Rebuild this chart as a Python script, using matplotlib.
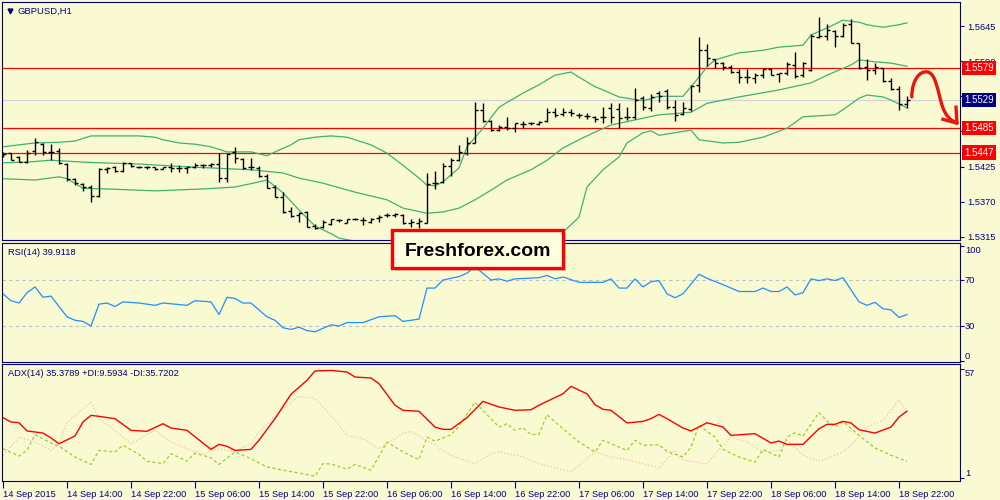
import numpy as np
import matplotlib.pyplot as plt
from matplotlib.patches import Rectangle, PathPatch
from matplotlib.path import Path
from matplotlib.ticker import FormatStrFormatter

plt.rcParams['font.family'] = ['Liberation Sans', 'DejaVu Sans']

# GBPUSD H1, 14 Sep 06:00 .. 18 Sep 23:00 (one bar per hour)
opens = [
    1.5445, 1.5446, 1.5440, 1.5432, 1.5449, 1.5460, 1.5448, 1.5449, 1.5429, 1.5406,
    1.5398, 1.5393, 1.5379, 1.5421, 1.5424, 1.5418, 1.5431, 1.5424, 1.5425, 1.5424,
    1.5421, 1.5424, 1.5423, 1.5423, 1.5424, 1.5427, 1.5427, 1.5429, 1.5407, 1.5448,
    1.5437, 1.5424, 1.5423, 1.5410, 1.5393, 1.5377, 1.5355, 1.5349, 1.5354, 1.5332,
    1.5330, 1.5335, 1.5341, 1.5337, 1.5343, 1.5341, 1.5338, 1.5345, 1.5349, 1.5349,
    1.5349, 1.5337, 1.5337, 1.5337, 1.5399, 1.5401, 1.5426, 1.5435, 1.5446, 1.5462,
    1.5514, 1.5496, 1.5482, 1.5487, 1.5485, 1.5492, 1.5493, 1.5492, 1.5496, 1.5510,
    1.5507, 1.5510, 1.5506, 1.5504, 1.5503, 1.5503, 1.5517, 1.5515, 1.5503, 1.5503,
    1.5532, 1.5517, 1.5540, 1.5543, 1.5518, 1.5507, 1.5515, 1.5553, 1.5607, 1.5593,
    1.5587, 1.5581, 1.5573, 1.5565, 1.5564, 1.5568, 1.5578, 1.5570, 1.5571, 1.5584,
    1.5568, 1.5576, 1.5628, 1.5629, 1.5637, 1.5629, 1.5648, 1.5618, 1.5581, 1.5576,
    1.5579, 1.5559, 1.5546, 1.5523]
highs = [
    1.5448, 1.5447, 1.5441, 1.5451, 1.5470, 1.5462, 1.5460, 1.5454, 1.5430, 1.5407,
    1.5399, 1.5396, 1.5423, 1.5424, 1.5426, 1.5432, 1.5431, 1.5426, 1.5426, 1.5425,
    1.5425, 1.5431, 1.5427, 1.5426, 1.5431, 1.5429, 1.5431, 1.5446, 1.5446, 1.5456,
    1.5438, 1.5438, 1.5426, 1.5413, 1.5396, 1.5385, 1.5362, 1.5354, 1.5355, 1.5335,
    1.5341, 1.5343, 1.5343, 1.5343, 1.5345, 1.5346, 1.5345, 1.5349, 1.5352, 1.5352,
    1.5351, 1.5343, 1.5345, 1.5415, 1.5418, 1.5431, 1.5438, 1.5459, 1.5471, 1.5526,
    1.5524, 1.5498, 1.5490, 1.5503, 1.5493, 1.5496, 1.5495, 1.5496, 1.5517, 1.5517,
    1.5517, 1.5515, 1.5509, 1.5509, 1.5504, 1.5518, 1.5524, 1.5524, 1.5518, 1.5548,
    1.5535, 1.5539, 1.5543, 1.5546, 1.5529, 1.5526, 1.5553, 1.5628, 1.5617, 1.5593,
    1.5589, 1.5584, 1.5578, 1.5578, 1.5571, 1.5579, 1.5579, 1.5571, 1.5589, 1.5604,
    1.5589, 1.5632, 1.5659, 1.5648, 1.5639, 1.5650, 1.5656, 1.5618, 1.5593, 1.5587,
    1.5579, 1.5564, 1.5551, 1.5535]
lows = [
    1.5440, 1.5435, 1.5432, 1.5431, 1.5443, 1.5443, 1.5435, 1.5429, 1.5402, 1.5396,
    1.5387, 1.5370, 1.5378, 1.5415, 1.5416, 1.5417, 1.5424, 1.5423, 1.5422, 1.5420,
    1.5421, 1.5416, 1.5416, 1.5415, 1.5423, 1.5423, 1.5424, 1.5401, 1.5401, 1.5431,
    1.5421, 1.5420, 1.5409, 1.5391, 1.5377, 1.5352, 1.5346, 1.5338, 1.5330, 1.5327,
    1.5329, 1.5334, 1.5338, 1.5337, 1.5341, 1.5334, 1.5337, 1.5338, 1.5346, 1.5346,
    1.5335, 1.5330, 1.5329, 1.5336, 1.5390, 1.5399, 1.5410, 1.5434, 1.5443, 1.5462,
    1.5495, 1.5481, 1.5481, 1.5482, 1.5479, 1.5485, 1.5490, 1.5490, 1.5495, 1.5503,
    1.5504, 1.5504, 1.5501, 1.5499, 1.5495, 1.5493, 1.5493, 1.5485, 1.5498, 1.5499,
    1.5514, 1.5512, 1.5526, 1.5515, 1.5496, 1.5506, 1.5512, 1.5542, 1.5582, 1.5579,
    1.5576, 1.5571, 1.5556, 1.5556, 1.5556, 1.5564, 1.5568, 1.5557, 1.5568, 1.5564,
    1.5565, 1.5575, 1.5626, 1.5623, 1.5612, 1.5628, 1.5618, 1.5578, 1.5560, 1.5570,
    1.5557, 1.5545, 1.5514, 1.5517]
closes = [
    1.5445, 1.5435, 1.5432, 1.5446, 1.5463, 1.5448, 1.5448, 1.5431, 1.5406, 1.5399,
    1.5393, 1.5379, 1.5421, 1.5423, 1.5418, 1.5431, 1.5426, 1.5424, 1.5424, 1.5421,
    1.5424, 1.5423, 1.5423, 1.5424, 1.5427, 1.5427, 1.5429, 1.5407, 1.5445, 1.5438,
    1.5423, 1.5424, 1.5410, 1.5391, 1.5377, 1.5354, 1.5348, 1.5353, 1.5330, 1.5329,
    1.5338, 1.5343, 1.5341, 1.5343, 1.5343, 1.5341, 1.5343, 1.5346, 1.5349, 1.5351,
    1.5337, 1.5338, 1.5340, 1.5398, 1.5399, 1.5426, 1.5435, 1.5448, 1.5462, 1.5514,
    1.5496, 1.5482, 1.5487, 1.5485, 1.5493, 1.5492, 1.5493, 1.5495, 1.5510, 1.5506,
    1.5510, 1.5509, 1.5506, 1.5504, 1.5499, 1.5503, 1.5503, 1.5501, 1.5503, 1.5529,
    1.5518, 1.5534, 1.5535, 1.5518, 1.5506, 1.5517, 1.5551, 1.5607, 1.5595, 1.5587,
    1.5581, 1.5573, 1.5565, 1.5565, 1.5568, 1.5578, 1.5568, 1.5571, 1.5586, 1.5567,
    1.5587, 1.5629, 1.5629, 1.5639, 1.5629, 1.5647, 1.5618, 1.5579, 1.5576, 1.5581,
    1.5559, 1.5546, 1.5523, 1.5529]

# Bollinger bands (read at selected bars)
up_idx = [0, 2, 4, 7, 9, 11, 17, 19, 20, 22, 24, 26, 28, 31, 33, 34, 36, 37, 39, 41,
          43, 44, 46, 48, 50, 52, 53, 54, 55, 57, 58, 60, 62, 65, 67, 69, 71, 72, 74, 75,
          77, 80, 82, 85, 86, 87, 88, 89, 92, 95, 97, 100, 101, 103, 105, 107, 108, 110, 112, 113]
up_val = [1.5456, 1.5459, 1.5462, 1.5463, 1.5465, 1.5473, 1.5473, 1.5471, 1.5467, 1.5462,
          1.5460, 1.5456, 1.5448, 1.5448, 1.5442, 1.5448, 1.5459, 1.5467, 1.5471, 1.5473,
          1.5471, 1.5467, 1.5459, 1.5446, 1.5427, 1.5407, 1.5396, 1.5395, 1.5401, 1.5423,
          1.5456, 1.5485, 1.5518, 1.5540, 1.5553, 1.5568, 1.5573, 1.5565, 1.5550, 1.5545,
          1.5534, 1.5528, 1.5535, 1.5535, 1.5550, 1.5565, 1.5581, 1.5592, 1.5603, 1.5607,
          1.5612, 1.5615, 1.5631, 1.5642, 1.5654, 1.5651, 1.5647, 1.5643, 1.5647, 1.5650]
mid_idx = [0, 3, 6, 10, 12, 17, 21, 24, 31, 35, 37, 40, 44, 48, 50, 53, 55, 57, 59, 61,
           63, 66, 68, 70, 72, 74, 76, 79, 82, 86, 88, 92, 97, 101, 103, 106, 107, 109, 111, 113]
mid_val = [1.5431, 1.5432, 1.5435, 1.5432, 1.5431, 1.5429, 1.5426, 1.5424, 1.5420, 1.5415,
           1.5407, 1.5399, 1.5385, 1.5373, 1.5360, 1.5352, 1.5354, 1.5360, 1.5373, 1.5388,
           1.5404, 1.5420, 1.5435, 1.5454, 1.5467, 1.5479, 1.5490, 1.5498, 1.5506, 1.5510,
           1.5524, 1.5534, 1.5545, 1.5556, 1.5568, 1.5584, 1.5592, 1.5589, 1.5587, 1.5582]
low_idx = [0, 4, 7, 8, 10, 13, 19, 25, 29, 32, 33, 35, 37, 39, 41, 42, 48, 52, 54, 57,
           58, 62, 67, 69, 72, 73, 75, 77, 78, 80, 81, 82, 86, 87, 90, 92, 95, 98, 100, 104,
           105, 107, 108, 110, 111, 113]
low_val = [1.5406, 1.5404, 1.5409, 1.5406, 1.5391, 1.5390, 1.5387, 1.5390, 1.5393, 1.5401,
           1.5404, 1.5384, 1.5357, 1.5332, 1.5320, 1.5313, 1.5299, 1.5307, 1.5310, 1.5297,
           1.5290, 1.5294, 1.5302, 1.5310, 1.5346, 1.5393, 1.5420, 1.5440, 1.5462, 1.5478,
           1.5481, 1.5474, 1.5482, 1.5467, 1.5462, 1.5463, 1.5471, 1.5485, 1.5503, 1.5506,
           1.5514, 1.5532, 1.5537, 1.5534, 1.5529, 1.5517]

rsi_idx = [0, 1, 2, 3, 4, 5, 6, 8, 9, 10, 11, 12, 13, 14, 15, 17, 19, 20, 23, 24, 26, 27,
           28, 29, 30, 31, 33, 34, 35, 36, 37, 38, 39, 40, 41, 42, 43, 45, 47, 49, 50, 52,
           53, 54, 55, 57, 58, 59, 61, 62, 63, 64, 67, 68, 69, 70, 72, 75, 76, 77, 78, 79,
           80, 81, 82, 83, 84, 85, 87, 88, 90, 92, 94, 95, 96, 97, 98, 99, 100, 101, 102,
           103, 104, 105, 107, 108, 109, 110, 111, 112, 113]
rsi_val = [58, 52, 50, 59, 64, 55, 56, 38, 35, 34, 30, 49, 50, 47, 51, 50, 48, 50, 48, 52,
           51, 40, 55, 54, 50, 50, 38, 35, 28.5, 27, 29, 26, 25, 28, 31, 30, 33, 33, 38, 39,
           34, 36, 63, 63, 70, 73, 76, 81.5, 70, 71, 69, 71, 72, 74, 71, 72.6, 68, 68, 71,
           63, 63, 71, 64, 68.5, 69.5, 58, 54.6, 58, 75, 71.5, 66, 60, 60, 63, 60, 60, 64,
           57, 59, 71, 69.5, 71, 69.6, 72, 51, 48, 50.6, 45, 44, 37.5, 39.9118]

adx_idx = [0, 1, 2, 3, 5, 6, 7, 9, 10, 11, 12, 14, 16, 18, 20, 21, 23, 26, 27, 28,
           29, 31, 32, 34, 36, 38, 39, 41, 43, 44, 46, 47, 49, 50, 52, 54, 55, 56, 58, 60,
           62, 64, 66, 67, 70, 71, 73, 74, 75, 76, 78, 80, 81, 82, 83, 85, 86, 88, 90, 91,
           93, 94, 96, 97, 98, 100, 102, 103, 104, 105, 106, 107, 109, 111, 112, 113]
adx_val = [32, 29.8, 29.4, 25.2, 24.1, 21.6, 18.6, 22.6, 29.8, 33.2, 32.7, 31.5, 25.5, 25,
           28.9, 26.7, 25.5, 15.7, 18.3, 17.3, 15.2, 15.7, 20.4, 31.5, 44, 51.2, 56, 56.3,
           55.5, 52.9, 52.4, 49.5, 38.4, 35.8, 35.3, 27.2, 26, 26, 32, 40.4, 37.5, 35.8,
           36.1, 38.4, 44.3, 48.1, 44.3, 38.7, 36.3, 35.8, 29.3, 30.1, 31.5, 33.7, 31.5,
           26.7, 25.2, 29.4, 27.2, 22.9, 23.5, 23.8, 19, 20, 18.3, 18.3, 26.3, 28.6, 28.6,
           30.1, 29.3, 25.8, 24.1, 27.2, 32.3, 35.3789]
pdi_idx = [0, 2, 3, 4, 6, 7, 9, 11, 12, 14, 15, 17, 18, 20, 21, 23, 24, 26, 27, 29,
           31, 33, 35, 37, 39, 40, 41, 43, 44, 46, 48, 50, 52, 53, 54, 56, 57, 59, 62, 63,
           64, 65, 66, 67, 68, 70, 72, 74, 75, 76, 78, 79, 80, 82, 83, 85, 86, 87, 89, 90,
           92, 94, 95, 97, 98, 99, 100, 102, 103, 104, 105, 107, 109, 111, 113]
pdi_val = [16, 12.3, 15.2, 23.3, 19, 17.4, 11.8, 8, 15.2, 14.4, 17.8, 13.2, 9.6, 8.4, 13.5,
           9.7, 13.8, 11.4, 8, 14.4, 10.9, 6.7, 5, 3.6, 1.9, 8.4, 8.2, 5.5, 8, 5, 19.5, 14.4,
           10.4, 22, 19.9, 23.3, 27.6, 40, 27.2, 28.9, 25.5, 26.7, 23.3, 23.5, 33.5, 26.3,
           19.5, 14.4, 20.4, 18.6, 15.2, 20.4, 17.8, 18.1, 14.7, 11.8, 16.9, 28.1, 22, 15.7,
           11.8, 9.2, 15.7, 11.8, 22, 24.3, 22.6, 34.6, 30.3, 27.2, 30.1, 22.9, 16.4, 12.7,
           9.5934]
mdi_idx = [0, 2, 4, 6, 7, 8, 11, 12, 15, 16, 19, 21, 23, 25, 27, 29, 31, 32, 35, 37,
           39, 41, 43, 45, 47, 50, 51, 54, 56, 59, 61, 62, 64, 65, 67, 69, 71, 72, 74, 76,
           78, 80, 82, 84, 85, 88, 89, 91, 93, 95, 97, 98, 100, 102, 104, 105, 107, 108,
           110, 112, 113]
mdi_val = [12.7, 22, 19.5, 15.2, 18.6, 29.8, 40, 31.5, 22, 18.6, 25.5, 19.5, 16, 13.5, 16,
           14.7, 18.6, 24.6, 36.6, 43, 41.8, 33.2, 22.9, 21.2, 16, 23.8, 25, 17.8, 12.7,
           8.3, 13.5, 14.4, 12.7, 11.8, 8.3, 6.1, 4.1, 7.5, 14.4, 11.8, 10.4, 8.3, 6.1,
           15.2, 10.1, 8.3, 13.5, 22, 19.5, 14.4, 15.2, 20.4, 12.7, 9.6, 12.7, 14.4, 22,
           27.2, 30.6, 41, 35.7202]

levels = [1.5579, 1.5485, 1.5447]
bid = 1.5529
price_ticks = [1.5315, 1.5370, 1.5425, 1.5480, 1.5535, 1.5590, 1.5645]
time_ticks = list(range(0, 113, 8))
time_labels = ['14 Sep 2015', '14 Sep 14:00', '14 Sep 22:00', '15 Sep 06:00', '15 Sep 14:00',
               '15 Sep 22:00', '16 Sep 06:00', '16 Sep 14:00', '16 Sep 22:00', '17 Sep 06:00',
               '17 Sep 14:00', '17 Sep 22:00', '18 Sep 06:00', '18 Sep 14:00', '18 Sep 22:00']

bg = '#fafad2'
navy = '#000080'
fs = 6.7

fig = plt.figure(figsize=(10, 5), dpi=100, facecolor=bg)


def panel(top, bottom):
    ax = fig.add_axes([0.002, 1 - bottom / 500, 0.958, (bottom - top) / 500])
    ax.set_facecolor(bg)
    for s in ax.spines.values():
        s.set_color(navy)
        s.set_linewidth(0.8)
    ax.set_xlim(-0.125, 119.625)
    ax.yaxis.tick_right()
    ax.tick_params(axis='y', direction='out', length=3, width=0.8, color=navy,
                   labelcolor=navy, labelsize=fs, pad=2)
    ax.tick_params(axis='x', bottom=False, labelbottom=False)
    return ax


ax1 = panel(2, 240)
ax2 = panel(243, 362)
ax3 = panel(364, 481)

# ---- price panel
x = np.arange(len(closes))
ax1.axhline(bid, color='#d3d3d3', lw=0.9, zorder=1)
for lv in levels:
    ax1.axhline(lv, color='red', lw=0.9, zorder=1)
ax1.plot(up_idx, up_val, color='#3cb371', lw=0.9, zorder=2)
ax1.plot(mid_idx, mid_val, color='#3cb371', lw=0.9, zorder=2)
ax1.plot(low_idx, low_val, color='#3cb371', lw=0.9, zorder=2)
ax1.vlines(x, lows, highs, color='black', lw=1.0, zorder=3)
ax1.hlines(opens, x - 0.4, x, color='black', lw=1.0, zorder=3)
ax1.hlines(closes, x, x + 0.4, color='black', lw=1.0, zorder=3)
ax1.set_ylim(1.53101, 1.56826)
ax1.set_yticks(price_ticks)
ax1.yaxis.set_major_formatter(FormatStrFormatter('%.4f'))

# price labels of the levels sit on top of the axis labels, as in the terminal
ytr = ax1.get_yaxis_transform()
for lv in levels:
    ax1.text(1.0045, lv, f'{lv:.4f}', transform=ytr, ha='left', va='center', fontsize=7,
             color='white', clip_on=False, zorder=5,
             bbox=dict(boxstyle='square,pad=0.22', fc='red', ec='none'))
ax1.text(1.0045, bid, f'{bid:.4f}', transform=ytr, ha='left', va='center', fontsize=7,
         color='white', clip_on=False, zorder=5,
         bbox=dict(boxstyle='square,pad=0.22', fc=navy, ec='none'))

ax1.text(0.0167, 0.962, 'GBPUSD,H1', transform=ax1.transAxes, fontsize=6.8, color=navy,
         va='center')
ax1.plot([0.0084], [0.962], marker='v', ms=3.5, color=navy, transform=ax1.transAxes)

# hand drawn forecast arrow
arrow_col = '#e8160c'
verts = [(113.6, 1.5534), (113.6, 1.5560), (114.6, 1.5576), (115.6, 1.5573),
         (116.6, 1.5570), (116.8, 1.5545), (117.4, 1.5520),
         (117.8, 1.5505), (118.4, 1.5497), (119.25, 1.5493)]
codes = [Path.MOVETO] + [Path.CURVE4] * 9
ax1.add_patch(PathPatch(Path(verts, codes), fc='none', ec=arrow_col, lw=2.4,
                        capstyle='round', clip_on=False, zorder=6))
ax1.plot([119.125, 119.25, 117.5], [1.5518, 1.5493, 1.5499], color=arrow_col, lw=2.4,
         clip_on=False, zorder=6)

# ---- RSI panel
ax2.axhline(70, color='#c0c0c0', lw=0.8, ls=(0, (3, 3)))
ax2.axhline(30, color='#c0c0c0', lw=0.8, ls=(0, (3, 3)))
ax2.plot(rsi_idx, rsi_val, color='#1e90ff', lw=0.9)
ax2.set_ylim(-1.3, 102.2)
ax2.set_yticks([0, 30, 70, 100])
ax2.set_yticklabels(['', '', '', ''])
ytr2 = ax2.get_yaxis_transform()
for v, va in [(100, 'top'), (70, 'center'), (30, 'center'), (0, 'bottom')]:
    ax2.text(1.0052, v, str(v), transform=ytr2, ha='left', va=va, fontsize=fs, color=navy,
             clip_on=False)
ax2.text(0.0063, 0.924, 'RSI(14) 39.9118', transform=ax2.transAxes, fontsize=fs,
         color=navy, va='center')

# ---- ADX panel
ax3.plot(mdi_idx, mdi_val, color='#f3c2ae', lw=0.9, ls=(0, (1, 1.6)))
ax3.plot(pdi_idx, pdi_val, color='#9acd32', lw=0.9, ls=(0, (2.5, 2)))
ax3.plot(adx_idx, adx_val, color='red', lw=1.0)
ax3.set_ylim(-0.54, 59.6)
ax3.set_yticks([1, 57])
ax3.set_yticklabels(['', ''])
ytr3 = ax3.get_yaxis_transform()
ax3.text(1.0052, 57, '57', transform=ytr3, ha='left', va='top', fontsize=fs, color=navy,
         clip_on=False)
ax3.text(1.0052, 1, '1', transform=ytr3, ha='left', va='bottom', fontsize=fs, color=navy,
         clip_on=False)
ax3.text(0.0063, 0.917, 'ADX(14) 35.3789 +DI:9.5934 -DI:35.7202', transform=ax3.transAxes,
         fontsize=fs, color=navy, va='center')
ax3.set_xticks(time_ticks)
ax3.set_xticklabels(time_labels, ha='left')
ax3.tick_params(axis='x', bottom=True, labelbottom=True, direction='out', length=5,
                width=0.8, color=navy, labelcolor=navy, labelsize=fs, pad=1.5)

# ---- watermark box
fig.add_artist(Rectangle((395 / 1000, 1 - 271 / 500), 171 / 1000, 38 / 500,
                         transform=fig.transFigure, fc='#777777', alpha=0.35, ec='none',
                         zorder=9))
fig.add_artist(Rectangle((392 / 1000, 1 - 268 / 500), 171 / 1000, 38 / 500,
                         transform=fig.transFigure, fc='#ffffe0', ec='#ff0000', lw=2.4,
                         zorder=10))
fig.text(0.4775, 1 - 256.5 / 500, 'Freshforex.com', fontsize=14, fontweight='bold',
         ha='center', va='baseline', color='black', zorder=11)

fig.savefig('out.png', dpi=100, facecolor=bg)
